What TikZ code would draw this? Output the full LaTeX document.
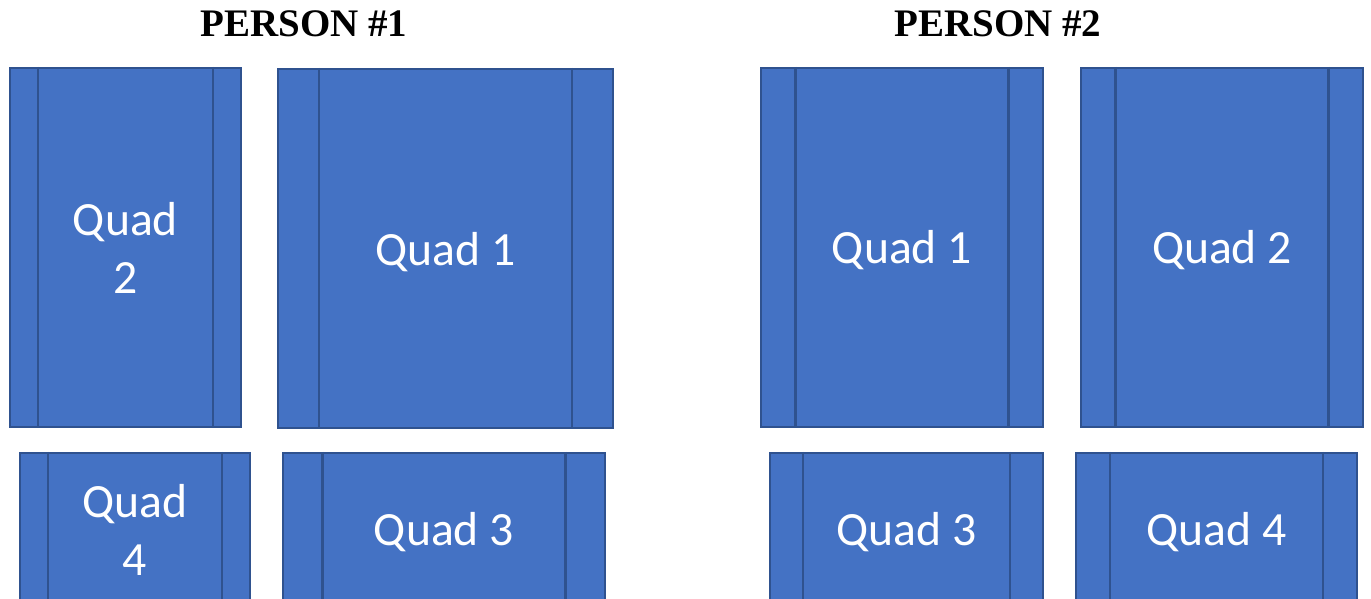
\documentclass[tikz,border=0pt]{standalone}
\usepackage{fontspec}
\setmainfont{Liberation Serif}
\newfontfamily\quadfont{Carlito}
\usetikzlibrary{calc}
\definecolor{quadfill}{HTML}{4472C4}
\definecolor{quadedge}{HTML}{2F528F}
\tikzset{
  qbox/.style={draw=quadedge, fill=quadfill, line width=2.4pt, inner sep=0pt},
  qtext/.style={text=white, align=center, inner sep=0pt,
    font=\quadfont\fontsize{47.7}{58}\selectfont},
  qline/.style={draw=quadedge, line width=2.4pt},
  ptitle/.style={font=\bfseries\fontsize{39}{44}\selectfont, text=black, inner sep=0pt}
}
% \quadbox[label options]{name}{left}{top}{right}{bottom}{label}: a box with two side bars
\newcommand{\quadbox}[7][]{%
  \node[qbox, minimum width={(#5-#3)*1pt}, minimum height={(#6-#4)*1pt}]
    (#2) at ({(#3+#5)/2},{(#4+#6)/2}) {};
  \draw[qline] ($(#2.north west)!0.125!(#2.north east)$) -- ($(#2.south west)!0.125!(#2.south east)$);
  \draw[qline] ($(#2.north east)!0.125!(#2.north west)$) -- ($(#2.south east)!0.125!(#2.south west)$);
  \node[qtext, #1] (#2-label) at (#2.center) {#7};
}
\begin{document}
\begin{tikzpicture}[x=1pt, y=-1pt]
  \useasboundingbox (0,0) rectangle (1371,598);
  \clip (0,0) rectangle (1371,598);
  \fill[white] (0,0) rectangle (1371,598);

  % titles
  \node[ptitle] (t1) at (304,24) {PERSON \#1};
  \node[ptitle] (t2) at (998,24) {PERSON \#2};

  % person 1
  \quadbox{p1q2}{10}{68}{241}{427}{Quad\\2}
  \quadbox[yshift=-4pt]{p1q1}{278}{69}{613}{428}{Quad 1}
  \quadbox{p1q4}{20}{453}{250}{606}{Quad\\4}
  \quadbox[yshift=-3pt]{p1q3}{283}{453}{605}{606}{Quad 3}

  % person 2
  \quadbox[yshift=-3pt]{p2q1}{761}{68}{1043}{427}{Quad 1}
  \quadbox[yshift=-3pt]{p2q2}{1081}{68}{1363}{427}{Quad 2}
  \quadbox[yshift=-3pt]{p2q3}{770}{453}{1043}{606}{Quad 3}
  \quadbox[yshift=-3pt]{p2q4}{1076}{453}{1357}{606}{Quad 4}
\end{tikzpicture}
\end{document}
